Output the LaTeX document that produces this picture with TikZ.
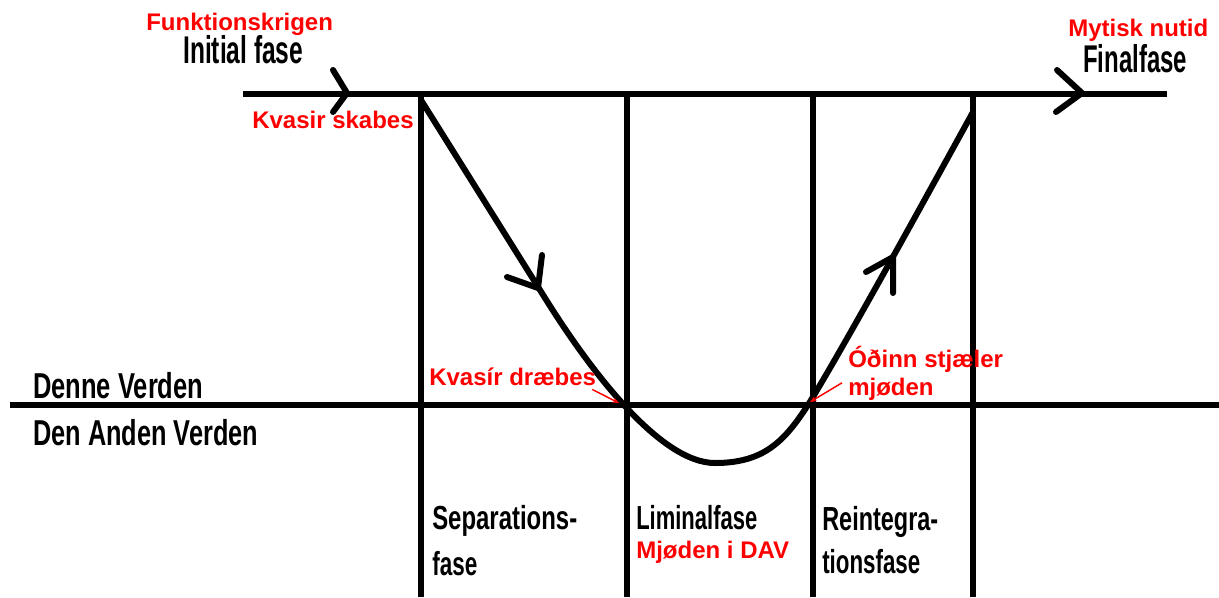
\documentclass[tikz,border=0pt]{standalone}
\usepackage{fontspec}
\setmainfont{Liberation Sans}
\usetikzlibrary{arrows.meta}
% one drawing unit = one pixel of the sketch
\newdimen\pxu \pxu=0.75pt
% condensed lettering: squeeze a word to a given width, keep its height
\newcommand\narrowtext[2]{\resizebox{#1\pxu}{\height}{#2}}
\tikzset{
  heavy/.style={line width=4.5pt},
  chev/.style={line width=4.5pt, line cap=round, line join=round},
  redlbl/.style={text=red, font=\fontsize{18pt}{20pt}\selectfont\bfseries, inner sep=0pt, anchor=base west},
  bigcond/.style={font=\fontsize{29pt}{31pt}\selectfont\bfseries, inner sep=0pt, anchor=base west},
  midcond/.style={font=\fontsize{27pt}{29pt}\selectfont\bfseries, inner sep=0pt, anchor=base west},
  smallcond/.style={font=\fontsize{25pt}{27pt}\selectfont\bfseries, inner sep=0pt, anchor=base west},
  pointer/.style={red, line width=1.1pt, -{Stealth[length=5pt,width=4pt]}}
}
\begin{document}
\begin{tikzpicture}[x=0.75pt, y=-0.75pt]
\fill[white] (0,0) rectangle (1219,597);
\useasboundingbox (0,0) rectangle (1219,597);

% time axis with its two arrow marks
\coordinate (tl) at (243,94);
\coordinate (tr) at (1167,94);
\draw[heavy] (tl) -- (tr);
\draw[chev] (333,70) -- (347,93) -- (333,112);
\draw[chev] (1057,70) -- (1082,93) -- (1056,112);

% border between the worlds
\coordinate (wl) at (10,405);
\coordinate (wr) at (1219,405);
\draw[heavy] (wl) -- (wr);

% phase separators
\foreach \x in {421,627,813,973}
  \draw[heavy] (\x,94) -- (\x,597);

% the path of the mead
\draw[heavy, line cap=round] (421,100) -- (545,298)
  .. controls (590,370) and (660,463) .. (715,463)
  .. controls (765,463) and (785,440) .. (808,405)
  .. controls (845,345) and (930,190) .. (973,112);
\draw[chev] (542,255) -- (538,288) -- (507,277);
\draw[chev] (866,272) -- (893,257) -- (893,293);

% labels
\node[redlbl] (fk) at (146,30) {Funktionskrigen};
\node[bigcond] (init) at (183,63) {\narrowtext{120}{Initial fase}};
\node[redlbl] (ks) at (252,128) {Kvasir skabes};
\node[redlbl] (mn) at (1068,36) {Mytisk nutid};
\node[bigcond] (fin) at (1083,72) {\narrowtext{104}{Finalfase}};
\node[midcond] (dv) at (33,398) {\narrowtext{170}{Denne Verden}};
\node[midcond] (dav) at (33,445) {\narrowtext{225}{Den Anden Verden}};
\node[redlbl] (kd) at (429,385) {Kvasír dræbes};
\node[redlbl] (os1) at (848,367) {Óðinn stjæler};
\node[redlbl] (os2) at (848,395) {mjøden};
\node[smallcond] (sep1) at (432,529) {\narrowtext{145}{Separations-}};
\node[smallcond] (sep2) at (432,575) {\narrowtext{45}{fase}};
\node[smallcond] (lim) at (636,529) {\narrowtext{121}{Liminalfase}};
\node[redlbl] (mid) at (636,558) {Mjøden i DAV};
\node[smallcond] (re1) at (822,530) {\narrowtext{116}{Reintegra-}};
\node[smallcond] (re2) at (822,573) {\narrowtext{98}{tionsfase}};

% pointers to the crossings
\coordinate (kdtip) at (619,403);
\coordinate (ostip) at (810,402);
\draw[pointer] ([shift={(-4,4)}]kd.south east) -- (kdtip);
\draw[pointer] ([shift={(-6,-6)}]os2.west) -- (ostip);
\end{tikzpicture}
\end{document}
